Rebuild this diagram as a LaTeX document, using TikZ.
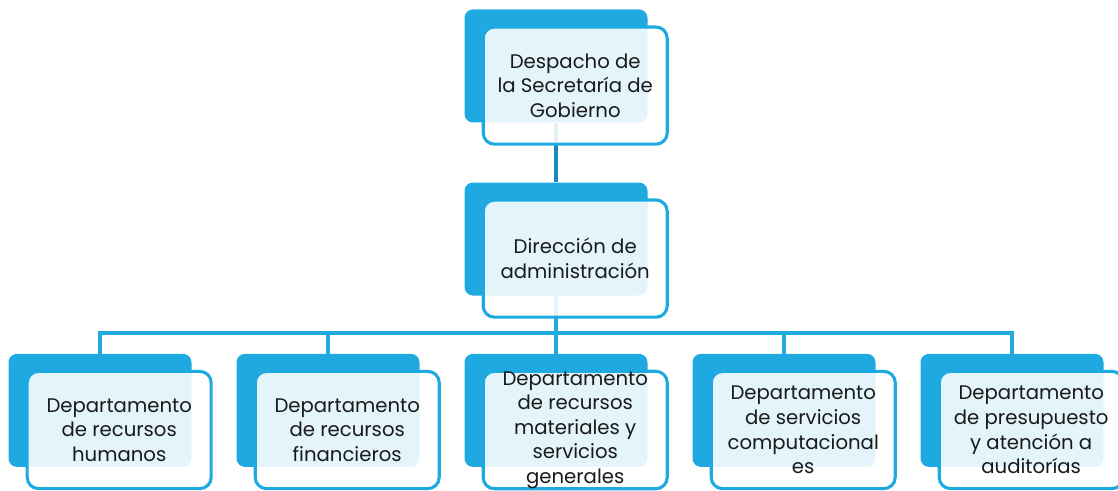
\documentclass[tikz,border=0pt]{standalone}
\usepackage{fontspec}
\setmainfont{Poppins}
\usetikzlibrary{positioning,calc,backgrounds}
\definecolor{azul}{HTML}{1EAAE1}
\definecolor{azulosc}{HTML}{1A88BC}
\definecolor{texto}{HTML}{1A1A1A}

\tikzset{
  fondo/.style={fill=azul, rounded corners=6pt, minimum width=4.575cm, minimum height=2.825cm, inner sep=0pt},
  caja/.style={draw=azul, line width=2.2pt, fill=white, fill opacity=0.88, text opacity=1,
    rounded corners=8pt, minimum width=4.6cm, minimum height=2.93cm, inner sep=0pt,
    align=center, text=texto, font=\fontsize{14}{17.5}\selectfont,
    xshift=0.48cm, yshift=-0.49cm},
  conector/.style={draw=azul, line width=2.2pt}
}

\begin{document}
\begin{tikzpicture}
\useasboundingbox (0,0) rectangle (27.95,-12.275);
% despacho y direccion
\node[fondo] (dt) at (13.9,-1.65) {};
\node[caja] (ft) at (dt) {Despacho de\\la Secretaría de\\Gobierno};
\node[fondo] (dm) at (13.9,-5.975) {};
\node[caja] (fm) at (dm) {Dirección de\\administración};
% departamentos
\node[fondo] (d1) at (2.5,-10.26) {};
\node[caja] (f1) at (d1) {Departamento\\de recursos\\humanos};
\node[fondo] (d2) at (8.2,-10.26) {};
\node[caja] (f2) at (d2) {Departamento\\de recursos\\financieros};
\node[fondo] (d3) at (13.9,-10.26) {};
\node[caja] (f3) at (d3) {Departamento\\de recursos\\materiales y\\servicios\\generales};
\node[fondo] (d4) at (19.6,-10.26) {};
\node[caja] (f4) at (d4) {Departamento\\de servicios\\computacional\\es};
\node[fondo] (d5) at (25.3,-10.26) {};
\node[caja] (f5) at (d5) {Departamento\\de presupuesto\\y atención a\\auditorías};
% lineas
\coordinate (bus) at (0,-8.325);
\begin{scope}[on background layer]
\draw[conector, draw=azulosc, line width=2.6pt] (dt.south) -- (dm.north);
\draw[conector] (dm.south) -- (d3.north);
\draw[conector] (d1.north) -- (d1.north |- bus) -- (d5.north |- bus) -- (d5.north);
\foreach \i in {2,4}
  \draw[conector] (d\i.north |- bus) -- (d\i.north);
\end{scope}
\end{tikzpicture}
\end{document}
